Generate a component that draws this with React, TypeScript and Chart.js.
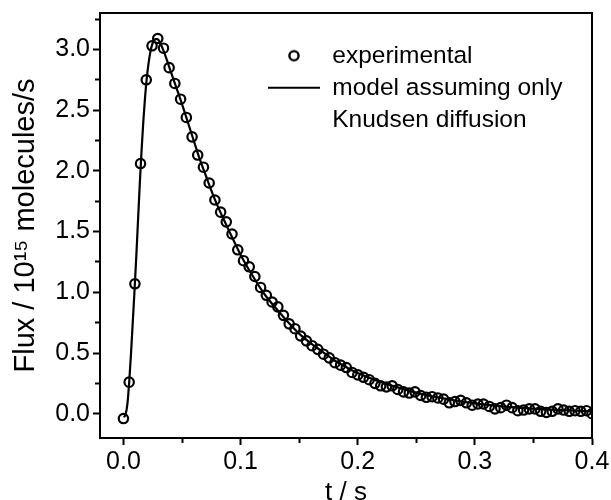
import React, { useEffect, useRef } from 'react';
import { Chart, registerables } from 'chart.js';

Chart.register(...registerables);

// ---------- data ----------
const expTime = [
  0.0, 0.0049, 0.0098, 0.0146, 0.0195, 0.0244, 0.0293, 0.0342, 0.039, 0.0439,
  0.0488, 0.0537, 0.0586, 0.0634, 0.0683, 0.0732, 0.0781, 0.083, 0.0878, 0.0927,
  0.0976, 0.1025, 0.1074, 0.1122, 0.1171, 0.122, 0.1269, 0.1318, 0.1366, 0.1415,
  0.1464, 0.1513, 0.1562, 0.161, 0.1659, 0.1708, 0.1757, 0.1806, 0.1854, 0.1903,
  0.1952, 0.2001, 0.205, 0.2098, 0.2147, 0.2196, 0.2245, 0.2294, 0.2342, 0.2391,
  0.244, 0.2489, 0.2538, 0.2586, 0.2635, 0.2684, 0.2733, 0.2782, 0.283, 0.2879,
  0.2928, 0.2977, 0.3026, 0.3074, 0.3123, 0.3172, 0.3221, 0.327, 0.3318, 0.3367,
  0.3416, 0.3465, 0.3514, 0.3562, 0.3611, 0.366, 0.3709, 0.3758, 0.3806, 0.3855,
  0.3904, 0.3953, 0.4,
];
const expFlux = [
  -0.04, 0.26, 1.07, 2.06, 2.75, 3.03, 3.09, 3.01, 2.85, 2.72,
  2.59, 2.44, 2.28, 2.13, 2.03, 1.9, 1.76, 1.66, 1.58, 1.48,
  1.35, 1.26, 1.21, 1.13, 1.04, 0.975, 0.92, 0.88, 0.81, 0.74,
  0.7, 0.64, 0.6, 0.56, 0.53, 0.49, 0.46, 0.42, 0.4, 0.38,
  0.34, 0.32, 0.3, 0.28, 0.25, 0.23, 0.22, 0.23, 0.2, 0.18,
  0.17, 0.18, 0.15, 0.135, 0.14, 0.13, 0.12, 0.09, 0.1, 0.11,
  0.09, 0.07, 0.08, 0.08, 0.06, 0.04, 0.05, 0.07, 0.05, 0.025,
  0.03, 0.04, 0.04, 0.02, 0.01, 0.02, 0.04, 0.03, 0.02, 0.025,
  0.02, 0.025, 0.0,
];
const modelTime = [
  0.0005, 0.002, 0.0035, 0.005, 0.0065, 0.008, 0.0095, 0.011, 0.0125, 0.014,
  0.0155, 0.017, 0.0185, 0.02, 0.0215, 0.023, 0.0245, 0.026, 0.0275, 0.029,
  0.0305, 0.032, 0.035, 0.04, 0.045, 0.05, 0.055, 0.06, 0.065, 0.07,
  0.075, 0.08, 0.09, 0.1, 0.11, 0.12, 0.13, 0.14, 0.15, 0.16,
  0.17, 0.18, 0.19, 0.2, 0.22, 0.24, 0.26, 0.28, 0.3, 0.32,
  0.34, 0.36, 0.38, 0.4,
];
const modelFlux = [
  -0.03, 0.0, 0.09, 0.27, 0.5, 0.76, 1.02, 1.3, 1.6, 1.9,
  2.17, 2.41, 2.61, 2.77, 2.89, 2.98, 3.04, 3.07, 3.085, 3.085,
  3.07, 3.04, 2.97, 2.83, 2.69, 2.55, 2.4, 2.25, 2.1, 1.97,
  1.84, 1.72, 1.51, 1.31, 1.14, 0.99, 0.87, 0.76, 0.66, 0.58,
  0.51, 0.44, 0.385, 0.335, 0.26, 0.2, 0.15, 0.115, 0.085, 0.065,
  0.048, 0.036, 0.027, 0.02,
];
const seriesLabels = ['experimental', 'model assuming only', 'Knudsen diffusion'];
const xTickValues = [0, 0.05, 0.1, 0.15, 0.2, 0.25, 0.3, 0.35, 0.4];
const xTickLabels = ['0.0', '', '0.1', '', '0.2', '', '0.3', '', '0.4'];
const yTickValues = [0, 0.25, 0.5, 0.75, 1.0, 1.25, 1.5, 1.75, 2.0, 2.25, 2.5, 2.75, 3.0, 3.25];
const yTickLabels = ['0.0', '', '0.5', '', '1.0', '', '1.5', '', '2.0', '', '2.5', '', '3.0', ''];
const xTitle = 't / s';
const yTitle = 'Flux / 10\u00B9\u2075 molecules/s';

const FONT = "'Liberation Sans', Arial, Helvetica, sans-serif";

const framePlugin = {
  id: 'frameBox',
  afterDatasetsDraw(chart: any) {
    const { ctx, chartArea } = chart;
    const { left, top, right, bottom } = chartArea;
    ctx.save();
    ctx.strokeStyle = '#000';
    ctx.lineWidth = 2;
    ctx.beginPath();
    ctx.moveTo(left - 1, top);
    ctx.lineTo(right, top);
    ctx.lineTo(right, bottom + 1);
    ctx.stroke();
    ctx.restore();
  },
};

const legendPlacement = {
  id: 'legendPlacement',
  afterLayout(chart: any) {
    const lg = chart.legend;
    if (!lg) return;
    const a = chart.chartArea;
    lg.left = a.left + 160.5;
    lg.top = a.top + 23;
    lg.right = a.right;
    lg.bottom = a.bottom;
    lg.width = lg.right - lg.left;
    lg.height = lg.bottom - lg.top;
  },
};

function makeCircleMarker(): HTMLCanvasElement {
  // legend symbol for the hollow circle markers
  const c = document.createElement('canvas');
  c.width = 16;
  c.height = 16;
  const g = c.getContext('2d');
  if (g) {
    g.strokeStyle = '#000';
    g.lineWidth = 2.4;
    g.beginPath();
    g.arc(8, 8, 4.6, 0, Math.PI * 2);
    g.stroke();
  }
  return c;
}

export default function App() {
  const canvasRef = useRef<HTMLCanvasElement | null>(null);

  useEffect(() => {
    document.body.style.margin = '0';
    const canvas = canvasRef.current;
    if (!canvas) return;

    const circleMarker = makeCircleMarker();
    const minorDashX = (c: any) => (xTickLabels[c.index] === '' ? [4, 100] : []);
    const minorDashY = (c: any) => (yTickLabels[c.index] === '' ? [0, 2, 4, 100] : []);

    const chart = new Chart(canvas, {
      type: 'scatter',
      data: {
        datasets: [
          {
            label: seriesLabels[0],
            data: expTime.map((t, i) => ({ x: t, y: expFlux[i] })),
            showLine: false,
            pointStyle: 'circle',
            pointRadius: 4.7,
            pointHoverRadius: 4.7,
            pointBorderWidth: 2.2,
            pointBorderColor: '#000',
            pointBackgroundColor: 'rgba(0,0,0,0)',
            borderColor: '#000',
            backgroundColor: 'rgba(0,0,0,0)',
            clip: 0,
          },
          {
            label: seriesLabels[1],
            data: modelTime.map((t, i) => ({ x: t, y: modelFlux[i] })),
            showLine: true,
            borderColor: '#000',
            borderWidth: 2.2,
            backgroundColor: 'rgba(0,0,0,0)',
            cubicInterpolationMode: 'monotone',
            pointRadius: 0,
            pointHoverRadius: 0,
            pointStyle: 'line',
            pointBorderWidth: 2.2,
            pointBorderColor: '#000',
            pointBackgroundColor: '#000',
            clip: 0,
          },
        ],
      },
      options: {
        animation: false,
        responsive: false,
        maintainAspectRatio: false,
        devicePixelRatio: 1,
        events: [],
        layout: { padding: { top: 13, right: 19, bottom: 0, left: 0 } },
        plugins: {
          tooltip: { enabled: false },
          legend: {
            display: true,
            position: 'chartArea',
            align: 'start',
            labels: {
              usePointStyle: true,
              pointStyleWidth: 52,
              boxHeight: 6,
              padding: 7.5,
              color: '#000',
              font: { family: FONT, size: 24.5 },
              generateLabels: (ch: any) => {
                const items = (Chart.defaults.plugins.legend.labels as any).generateLabels(ch);
                if (items[0]) items[0].pointStyle = circleMarker;
                items.push({
                  text: seriesLabels[2],
                  fillStyle: 'rgba(0,0,0,0)',
                  strokeStyle: 'rgba(0,0,0,0)',
                  fontColor: '#000',
                  lineWidth: 0,
                  pointStyle: 'line',
                  hidden: false,
                  datasetIndex: -1,
                });
                return items;
              },
            },
          },
        },
        scales: {
          x: {
            type: 'linear',
            position: 'bottom',
            min: -0.02,
            max: 0.4,
            afterBuildTicks: (s: any) => {
              s.ticks = xTickValues.map((v) => ({ value: v }));
            },
            afterFit: (s: any) => {
              s.height = 62;
              s.paddingLeft = 0;
              s.paddingRight = 0;
            },
            ticks: {
              autoSkip: false,
              maxRotation: 0,
              minRotation: 0,
              padding: 2,
              color: '#000',
              font: { family: FONT, size: 25 },
              callback: (_v: any, i: number) => xTickLabels[i],
            },
            grid: {
              display: true,
              drawOnChartArea: false,
              drawTicks: true,
              tickLength: 7,
              tickWidth: 2,
              tickColor: '#000',
              tickBorderDash: minorDashX,
            },
            border: { display: true, color: '#000', width: 2 },
            title: {
              display: true,
              text: xTitle,
              color: '#000',
              font: { family: FONT, size: 26, lineHeight: 1.2 },
              padding: { top: 0, bottom: -8 },
            },
          },
          y: {
            type: 'linear',
            position: 'left',
            min: -0.2,
            max: 3.3,
            afterBuildTicks: (s: any) => {
              s.ticks = yTickValues.map((v) => ({ value: v }));
            },
            afterFit: (s: any) => {
              s.width = 100;
              s.paddingTop = 0;
              s.paddingBottom = 0;
            },
            ticks: {
              autoSkip: false,
              padding: 3,
              color: '#000',
              font: { family: FONT, size: 25 },
              callback: (_v: any, i: number) => yTickLabels[i],
            },
            grid: {
              display: true,
              drawOnChartArea: false,
              drawTicks: true,
              tickLength: 7,
              tickWidth: 2,
              tickColor: '#000',
              tickBorderDash: minorDashY,
            },
            border: { display: true, color: '#000', width: 2 },
            title: {
              display: true,
              text: yTitle,
              color: '#000',
              font: { family: FONT, size: 29, lineHeight: 1.2 },
              padding: { top: 9, bottom: 0 },
            },
          },
        },
      } as any,
      plugins: [framePlugin, legendPlacement],
    });

    return () => {
      chart.destroy();
    };
  }, []);

  return (
    <div style={{ width: 611, height: 500, position: 'relative', background: '#fff' }}>
      <canvas ref={canvasRef} width={611} height={500} style={{ display: 'block', width: 611, height: 500 }} />
    </div>
  );
}
